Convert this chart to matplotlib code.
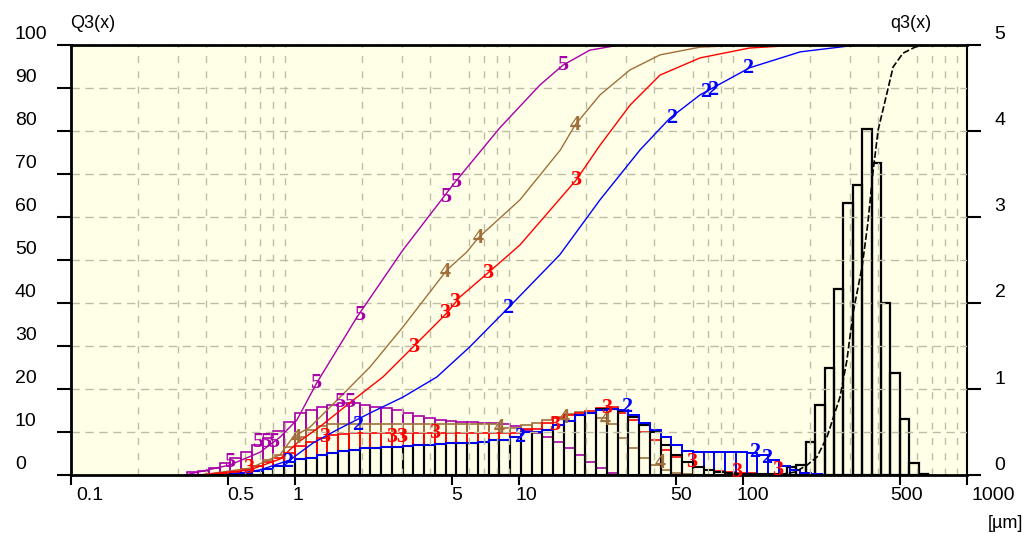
import numpy as np
import matplotlib
matplotlib.use("Agg")
import matplotlib.pyplot as plt
from matplotlib.ticker import FixedLocator
from matplotlib.transforms import ScaledTranslation

# size classes in µm (log spaced) used by curves 2-5 and the fine black bars
class_edges = np.logspace(-0.48, 2.832, 70)
# classes of the coarse black peak
coarse_edges = np.logspace(2.196, 2.826, 16)

# density q3(x), right axis
q3_black_fine = [0, 0.005, 0.005, 0.005, 0.01, 0.02, 0.05, 0.07, 0.10, 0.15,
                 0.19, 0.20, 0.23, 0.26, 0.28, 0.29, 0.31, 0.31, 0.33, 0.33,
                 0.34, 0.35, 0.35, 0.36, 0.37, 0.37, 0.37, 0.38, 0.41, 0.41,
                 0.44, 0.50, 0.50, 0.52, 0.58, 0.63, 0.70, 0.72, 0.77, 0.77,
                 0.74, 0.68, 0.58, 0.50, 0.35, 0.23, 0.15, 0.09, 0.06, 0.03,
                 0.02, 0.01, 0.01, 0.01, 0.01, 0, 0, 0, 0, 0,
                 0, 0, 0, 0, 0, 0, 0, 0, 0]
q3_black_coarse = [0.09, 0.12, 0.38, 0.81, 1.24, 2.16, 3.16, 3.37, 4.02, 3.63,
                   2.0, 1.19, 0.65, 0.14, 0.01]
q3_blue = [0, 0, 0, 0, 0.01, 0.02, 0.05, 0.07, 0.10, 0.15,
           0.19, 0.20, 0.23, 0.26, 0.28, 0.29, 0.31, 0.31, 0.33, 0.33,
           0.34, 0.35, 0.35, 0.36, 0.37, 0.37, 0.37, 0.38, 0.41, 0.41,
           0.44, 0.50, 0.50, 0.52, 0.58, 0.63, 0.70, 0.72, 0.76, 0.77,
           0.76, 0.70, 0.60, 0.52, 0.44, 0.35, 0.28, 0.27, 0.27, 0.27,
           0.27, 0.27, 0.26, 0.23, 0.17, 0.10, 0.06, 0.02, 0.01, 0.005,
           0, 0, 0, 0, 0, 0, 0, 0, 0]
q3_red = [0, 0, 0.01, 0.01, 0.03, 0.07, 0.10, 0.15, 0.20, 0.26,
          0.34, 0.38, 0.43, 0.47, 0.48, 0.49, 0.49, 0.49, 0.49, 0.49,
          0.49, 0.49, 0.49, 0.49, 0.49, 0.49, 0.49, 0.49, 0.49, 0.49,
          0.49, 0.53, 0.53, 0.60, 0.66, 0.70, 0.72, 0.74, 0.78, 0.79,
          0.72, 0.64, 0.50, 0.41, 0.29, 0.21, 0.15, 0.09, 0.06, 0.05,
          0.03, 0.02, 0.02, 0.01, 0.01, 0.005, 0, 0, 0, 0,
          0, 0, 0, 0, 0, 0, 0, 0, 0]
q3_brown = [0, 0, 0.01, 0.01, 0.03, 0.06, 0.10, 0.17, 0.23, 0.33,
            0.44, 0.52, 0.57, 0.59, 0.59, 0.59, 0.59, 0.59, 0.59, 0.59,
            0.59, 0.59, 0.59, 0.59, 0.59, 0.59, 0.59, 0.59, 0.59, 0.55,
            0.55, 0.58, 0.60, 0.64, 0.67, 0.71, 0.73, 0.72, 0.66, 0.59,
            0.43, 0.31, 0.20, 0.12, 0.06, 0.02, 0.01, 0, 0, 0,
            0, 0, 0, 0, 0, 0, 0, 0, 0, 0,
            0, 0, 0, 0, 0, 0, 0, 0, 0]
q3_magenta = [0.03, 0.05, 0.08, 0.14, 0.20, 0.27, 0.35, 0.43, 0.51, 0.62,
              0.72, 0.76, 0.79, 0.81, 0.84, 0.84, 0.81, 0.79, 0.78, 0.76,
              0.72, 0.69, 0.66, 0.64, 0.63, 0.62, 0.62, 0.60, 0.60, 0.59,
              0.57, 0.52, 0.49, 0.44, 0.38, 0.31, 0.23, 0.15, 0.08, 0.02,
              0, 0, 0, 0, 0, 0, 0, 0, 0, 0,
              0, 0, 0, 0, 0, 0, 0, 0, 0, 0,
              0, 0, 0, 0, 0, 0, 0, 0, 0]

# cumulative Q3(x) in %, left axis
x_black = [146, 171, 193, 214, 237, 271, 291, 310, 340, 361, 380, 401, 440, 468, 518, 586, 640, 1000]
Q3_black = [0.1, 0.7, 2.3, 4.2, 8.8, 18.1, 26.7, 37.7, 48.4, 58.6, 70.2, 80.2, 89, 94.9, 98.1, 99.5, 100, 100]
x_blue = [0.51, 0.70, 0.95, 1.2, 1.54, 2.16, 3.03, 4.3, 6.03, 8.93, 15.2, 23, 34.7, 47.2, 64.3, 107, 180, 300, 340]
Q3_blue = [0, 1.2, 3.5, 7.4, 10.5, 14.4, 18.1, 22.8, 29.8, 38.8, 51.2, 64, 75.6, 83, 88.4, 94.7, 98.4, 99.8, 100]
x_red = [0.377, 0.63, 0.857, 1.02, 1.29, 1.54, 1.89, 2.47, 3.37, 4.77, 5.45, 7.27, 10.1, 18, 23, 31.3, 42.6, 64.3, 107, 180]
Q3_red = [0, 1.2, 3.7, 7.4, 11.2, 14.4, 18.1, 22.8, 29.8, 37.7, 41.4, 47, 53.5, 68.6, 76.7, 86, 93, 97, 99.3, 100]
x_brown = [0.377, 0.63, 0.857, 0.98, 1.17, 1.54, 2.16, 3.03, 4.77, 5.86, 6.56, 10.1, 15.3, 17.8, 23, 31.3, 42.6, 64.3, 107]
Q3_brown = [0, 1.6, 4.7, 8.8, 11.2, 17.4, 25.1, 34.4, 47.7, 51.9, 55.1, 64, 75.6, 81.4, 88.4, 94.2, 97.7, 99.5, 100]
x_magenta = [0.323, 0.51, 0.698, 0.857, 1.02, 1.25, 1.89, 3.03, 5.18, 8.2, 12.4, 15.7, 20.7, 28.2]
Q3_magenta = [0, 2.3, 5.3, 8.8, 12.8, 21.4, 36.7, 52.3, 68.1, 80.7, 90.7, 95.3, 98.8, 100]

# sample number marks drawn on the curves and histograms
mark_x_5 = [15.7, 5.23, 4.72, 1.95, 1.24, 1.59, 1.76, 0.684, 0.74, 0.805, 0.51]
mark_y_5 = [95.3, 68.1, 64.7, 37.2, 21.4, 17.0, 17.0, 7.7, 7.7, 7.7, 3.0]
mark_x_4 = [17.8, 6.56, 4.67, 1.01, 16.0, 8.2, 24.2, 42.6]
mark_y_4 = [81.4, 55.1, 47.2, 8.6, 13.3, 10.9, 12.8, 2.8]
mark_x_3 = [18.0, 7.27, 5.18, 4.67, 3.37, 1.36, 2.71, 3.0, 4.22, 14.5, 24.7, 59.2, 94, 143, 0.62]
mark_y_3 = [68.6, 47.0, 40.2, 37.7, 29.8, 8.8, 8.8, 8.8, 9.8, 11.6, 15.6, 3.0, 0.7, 1.2, 1.6]
mark_x_2 = [105, 68.4, 73.5, 48.2, 8.93, 1.91, 10.1, 30.3, 113, 127, 0.93]
mark_y_2 = [94.7, 89.1, 89.5, 83, 38.8, 11.6, 8.8, 15.8, 5.3, 4.0, 3.0]

x_ticks = [0.1, 0.5, 1, 5, 10, 50, 100, 500, 1000]
x_tick_labels = ["0.1", "0.5", "1", "5", "10", "50", "100", "500", "1000"]
left_ticks = list(range(0, 101, 10))
right_ticks = [0, 1, 2, 3, 4, 5]

BG = "#fffee6"
GRID = "#bdbda5"
BLUE = "#0000ff"
RED = "#ff0000"
BROWN = "#a0703c"
MAGENTA = "#a800a8"
MARK_FONT = "Liberation Serif"
TICK_FONT = "Liberation Sans"

W, H = 1027, 536
fig = plt.figure(figsize=(W / 100, H / 100), dpi=100)
ax = fig.add_axes([71 / W, 1 - 475 / H, 896 / W, 430 / H])
ax2 = ax.twinx()
ax.set_zorder(ax2.get_zorder() + 1)
ax.patch.set_visible(False)
ax2.patch.set_visible(True)
ax2.patch.set_facecolor(BG)

ax.set_xscale("log")
ax.set_xlim(0.1, 1000)
ax.set_ylim(0, 100)
ax2.set_ylim(0, 5)


def draw_hist(axis, edges, heights, color, lw):
    edges = np.asarray(edges)
    heights = np.asarray(heights, dtype=float)
    keep = heights > 0
    axis.bar(edges[:-1][keep], heights[keep], width=np.diff(edges)[keep], align="edge",
             fill=False, edgecolor=color, linewidth=lw)


# coloured classes first, the black bars on top of them
draw_hist(ax2, class_edges, q3_magenta, MAGENTA, 1.2)
draw_hist(ax2, class_edges, q3_brown, BROWN, 1.2)
draw_hist(ax2, class_edges, q3_red, RED, 1.2)
draw_hist(ax2, class_edges, q3_blue, BLUE, 1.3)
draw_hist(ax2, class_edges, q3_black_fine, "black", 1.5)
draw_hist(ax2, coarse_edges, q3_black_coarse, "black", 1.6)
# the blue class tops stay visible over the black bars
blue_vals = np.asarray(q3_blue, dtype=float)
ax2.stairs(np.where(blue_vals > 0, blue_vals, np.nan), class_edges, color=BLUE, linewidth=1.3,
           baseline=None)

ax.plot(x_magenta, Q3_magenta, color=MAGENTA, lw=1)
ax.plot(x_brown, Q3_brown, color=BROWN, lw=1)
ax.plot(x_red, Q3_red, color=RED, lw=1)
ax.plot(x_blue, Q3_blue, color=BLUE, lw=1)
ax.plot(x_black, Q3_black, color="black", lw=1.2, linestyle=(0, (4, 1.5)))

for xs, ys, digit, color in [(mark_x_5, mark_y_5, "5", MAGENTA), (mark_x_4, mark_y_4, "4", BROWN),
                             (mark_x_3, mark_y_3, "3", RED), (mark_x_2, mark_y_2, "2", BLUE)]:
    for xv, yv in zip(xs, ys):
        ax.text(xv, yv, digit, color=color, fontsize=16, fontweight="bold", family=MARK_FONT,
                ha="center", va="center", zorder=5)

# grid
minor_pos = [k * 10.0 ** n for n in range(-1, 3) for k in range(2, 10)] + [1, 10, 100]
ax.xaxis.set_minor_locator(FixedLocator(minor_pos))
ax.set_xticks(x_ticks)
ax.set_yticks(left_ticks)
ax2.set_yticks(right_ticks)
ax.grid(which="minor", axis="x", color=GRID, linestyle=(0, (5, 6)), linewidth=1)
ax.grid(which="major", axis="y", color=GRID, linestyle=(0, (6, 4)), linewidth=1)
ax.grid(which="major", axis="x", visible=False)

ax.tick_params(axis="y", direction="out", length=10, width=1.5, labelleft=False)
ax.tick_params(axis="x", which="major", direction="out", length=7, width=1.5, labelbottom=False)
ax.tick_params(axis="x", which="minor", length=0)
ax2.tick_params(axis="y", direction="out", length=10, width=1.5, labelright=False)

for name in ["left", "bottom", "top"]:
    ax.spines[name].set_linewidth(2)
ax.spines["right"].set_visible(False)
for name in ["left", "bottom", "top"]:
    ax2.spines[name].set_visible(False)
ax2.spines["right"].set_linewidth(1.5)

# tick labels sit a little above their tick, as in the original program
px = fig.dpi_scale_trans
left_tr = ax.get_yaxis_transform() + ScaledTranslation(-56 / 100, 10.5 / 100, px)
for v in left_ticks:
    ax.text(0, v, str(v), transform=left_tr, ha="left", va="center", fontsize=14, family=TICK_FONT)
right_tr = ax2.get_yaxis_transform() + ScaledTranslation(33 / 100, 10 / 100, px)
for v in right_ticks:
    ax2.text(1, v, str(v), transform=right_tr, ha="center", va="center", fontsize=14, family=TICK_FONT)
x_nudge = [19, 13, 3, 5, 7, 6, 10, 7, 26]
for v, lab, dx in zip(x_ticks, x_tick_labels, x_nudge):
    tr = ax.get_xaxis_transform() + ScaledTranslation(dx / 100, -21 / 100, px)
    ax.text(v, 0, lab, transform=tr, ha="center", va="center", fontsize=14, family=TICK_FONT)

fig.text(70 / W, 1 - 23 / H, "Q3(x)", fontsize=13, family=TICK_FONT, ha="left", va="center")
fig.text(911 / W, 1 - 23 / H, "q3(x)", fontsize=13, family=TICK_FONT, ha="center", va="center")
fig.text(1005 / W, 1 - 524 / H, "[µm]", fontsize=13, family=TICK_FONT, ha="center", va="center")

fig.savefig("out.png", dpi=100, facecolor="white")
